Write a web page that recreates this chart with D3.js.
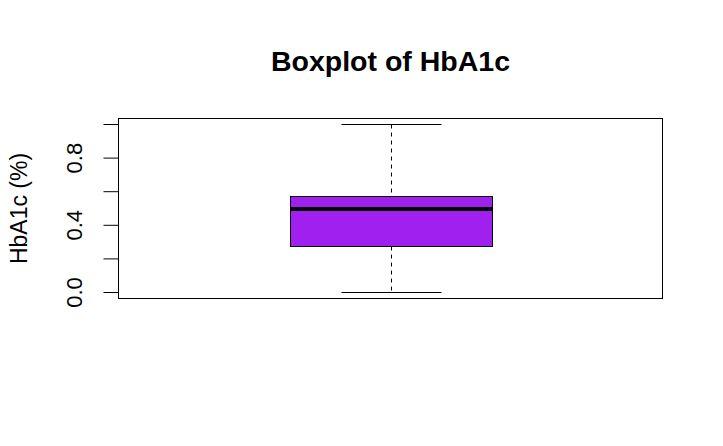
<!DOCTYPE html>
<html><head><meta charset="utf-8">
<script src="https://cdn.jsdelivr.net/npm/d3@7"></script>
<style>body{margin:0;background:#fff}svg{display:block}text{font-family:"Liberation Sans",Arial,sans-serif}</style>
</head><body>
<script>
const title = "Boxplot of HbA1c";
const yLabel = "HbA1c (%)";
const categories = ["HbA1c"];
const stats = [{min:0.0, q1:0.274, median:0.492, q3:0.571, max:1.0}];
const yTicks = [0, 0.2, 0.4, 0.6, 0.8, 1.0];
const yTickLabels = ["0.0", "", "0.4", "", "0.8", ""];
const boxColor = "#A020F0";

const W = 723, H = 446;
const svg = d3.select("body").append("svg").attr("width", W).attr("height", H);
const plot = {left:118.5, right:662.5, top:118.5, bottom:298.5};

const y = d3.scaleLinear().domain([0, 1]).range([292, 124]);
const x = d3.scaleLinear().domain([0.46, 1.54]).range([plot.left, plot.right]);
const crisp = v => Math.round(v) + 0.5;

svg.append("rect").attr("x", plot.left).attr("y", plot.top)
  .attr("width", plot.right-plot.left).attr("height", plot.bottom-plot.top)
  .attr("fill","none").attr("stroke","#000").attr("stroke-width",1);

const axis = d3.axisLeft(y).tickValues(yTicks).tickSize(15).tickFormat((d,i)=>yTickLabels[i]);
const ga = svg.append("g").attr("transform", `translate(${plot.left},0)`).call(axis);
ga.select(".domain").remove();
ga.selectAll(".tick line").attr("stroke","#000");
ga.selectAll(".tick text").attr("font-size", 22).attr("fill","#000")
  .attr("text-anchor","middle").attr("x",0).attr("dy",0)
  .attr("transform", "translate(-37,0) rotate(-90)");

stats.forEach((s,i)=>{
  const cx = crisp(x(i+1));
  const bw = Math.round(x(i+1.2)-x(i+1));
  const cw = Math.round(x(i+1.1)-x(i+1));
  const g = svg.append("g");
  g.append("line").attr("x1",cx).attr("x2",cx).attr("y1",crisp(y(s.max))).attr("y2",crisp(y(s.q3)))
    .attr("stroke","#000").attr("stroke-dasharray","4,4");
  g.append("line").attr("x1",cx).attr("x2",cx).attr("y1",crisp(y(s.q1))).attr("y2",crisp(y(s.min)))
    .attr("stroke","#000").attr("stroke-dasharray","4,4");
  g.append("line").attr("x1",cx-cw).attr("x2",cx+cw).attr("y1",crisp(y(s.max))).attr("y2",crisp(y(s.max))).attr("stroke","#000");
  g.append("line").attr("x1",cx-cw).attr("x2",cx+cw).attr("y1",crisp(y(s.min))).attr("y2",crisp(y(s.min))).attr("stroke","#000");
  g.append("rect").attr("x",cx-bw).attr("width",2*bw).attr("y",crisp(y(s.q3))).attr("height",crisp(y(s.q1))-crisp(y(s.q3)))
    .attr("fill",boxColor).attr("stroke","#000").attr("stroke-width",1);
  g.append("line").attr("x1",cx-bw).attr("x2",cx+bw).attr("y1",Math.round(y(s.median))).attr("y2",Math.round(y(s.median)))
    .attr("stroke","#000").attr("stroke-width",4);
});

svg.append("text").attr("x", (plot.left+plot.right)/2).attr("y", 71)
  .attr("text-anchor","middle").attr("font-weight","bold").attr("font-size",28.5).text(title);
svg.append("text").attr("transform", `translate(27,${(plot.top+plot.bottom)/2}) rotate(-90)`)
  .attr("text-anchor","middle").attr("font-size",23).text(yLabel);
</script>
</body></html>
